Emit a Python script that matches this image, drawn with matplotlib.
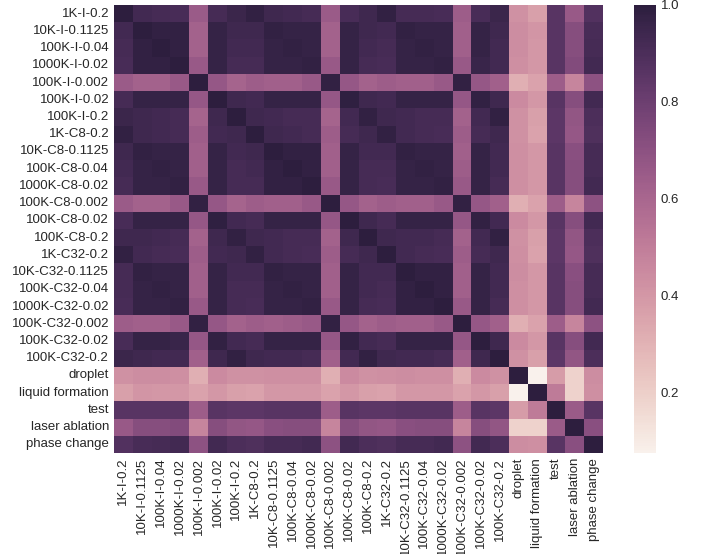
import numpy as np
import pandas as pd
import matplotlib
matplotlib.use("Agg")
import matplotlib.pyplot as plt
import seaborn as sns

# labels for the correlation matrix (rows and columns share the same order)
labels = [
    "1K-I-0.2", "10K-I-0.1125", "100K-I-0.04", "1000K-I-0.02", "100K-I-0.002",
    "100K-I-0.02", "100K-I-0.2",
    "1K-C8-0.2", "10K-C8-0.1125", "100K-C8-0.04", "1000K-C8-0.02", "100K-C8-0.002",
    "100K-C8-0.02", "100K-C8-0.2",
    "1K-C32-0.2", "10K-C32-0.1125", "100K-C32-0.04", "1000K-C32-0.02", "100K-C32-0.002",
    "100K-C32-0.02", "100K-C32-0.2",
    "droplet", "liquid formation", "test", "laser ablation", "phase change",
]

# lower triangle of the correlation matrix, diagonal included
lower = [
    [1.00],
    [0.93, 1.00],
    [0.92, 0.98, 1.00],
    [0.91, 0.98, 0.98, 1.00],
    [0.65, 0.62, 0.62, 0.66, 1.00],
    [0.92, 0.97, 0.97, 0.97, 0.67, 1.00],
    [0.95, 0.94, 0.93, 0.92, 0.61, 0.94, 1.00],
    [0.98, 0.94, 0.93, 0.92, 0.64, 0.93, 0.94, 1.00],
    [0.94, 0.98, 0.97, 0.97, 0.63, 0.97, 0.93, 0.94, 1.00],
    [0.93, 0.97, 0.98, 0.97, 0.63, 0.97, 0.92, 0.93, 0.98, 1.00],
    [0.92, 0.97, 0.97, 0.98, 0.66, 0.97, 0.92, 0.92, 0.98, 0.98, 1.00],
    [0.65, 0.62, 0.62, 0.66, 0.98, 0.67, 0.61, 0.64, 0.63, 0.63, 0.66, 1.00],
    [0.91, 0.97, 0.97, 0.97, 0.67, 0.99, 0.93, 0.92, 0.97, 0.97, 0.97, 0.67, 1.00],
    [0.94, 0.94, 0.93, 0.92, 0.62, 0.94, 0.98, 0.94, 0.93, 0.92, 0.92, 0.62, 0.94, 1.00],
    [0.98, 0.93, 0.92, 0.91, 0.64, 0.93, 0.94, 0.98, 0.93, 0.92, 0.91, 0.64, 0.92, 0.94, 1.00],
    [0.92, 0.98, 0.97, 0.97, 0.63, 0.97, 0.93, 0.93, 0.98, 0.97, 0.97, 0.63, 0.97, 0.93, 0.93, 1.00],
    [0.92, 0.97, 0.98, 0.97, 0.63, 0.97, 0.92, 0.92, 0.97, 0.98, 0.97, 0.63, 0.97, 0.93, 0.92, 0.98, 1.00],
    [0.91, 0.97, 0.97, 0.98, 0.66, 0.97, 0.92, 0.91, 0.97, 0.97, 0.98, 0.66, 0.97, 0.92, 0.91, 0.98, 0.98, 1.00],
    [0.64, 0.63, 0.63, 0.66, 0.98, 0.67, 0.62, 0.64, 0.63, 0.64, 0.66, 0.98, 0.67, 0.62, 0.64, 0.63, 0.63, 0.66, 1.00],
    [0.91, 0.97, 0.97, 0.96, 0.67, 0.98, 0.93, 0.92, 0.97, 0.97, 0.97, 0.67, 0.98, 0.93, 0.92, 0.97, 0.97, 0.97, 0.67, 1.00],
    [0.95, 0.94, 0.93, 0.93, 0.63, 0.94, 0.98, 0.94, 0.93, 0.93, 0.92, 0.63, 0.93, 0.98, 0.94, 0.93, 0.93, 0.92, 0.63, 0.94, 1.00],
    [0.42, 0.44, 0.44, 0.43, 0.31, 0.45, 0.42, 0.42, 0.43, 0.43, 0.43, 0.31, 0.45, 0.42, 0.43, 0.44, 0.43, 0.43, 0.31, 0.45, 0.42, 1.00],
    [0.37, 0.41, 0.40, 0.40, 0.36, 0.40, 0.37, 0.36, 0.40, 0.40, 0.40, 0.36, 0.40, 0.37, 0.36, 0.40, 0.40, 0.40, 0.36, 0.40, 0.37, 0.075, 1.00],
    [0.86, 0.86, 0.86, 0.86, 0.64, 0.86, 0.85, 0.85, 0.86, 0.86, 0.86, 0.64, 0.86, 0.85, 0.85, 0.86, 0.86, 0.86, 0.64, 0.86, 0.85, 0.38, 0.51, 1.00],
    [0.66, 0.72, 0.72, 0.73, 0.47, 0.72, 0.68, 0.67, 0.71, 0.72, 0.72, 0.47, 0.72, 0.68, 0.67, 0.71, 0.72, 0.72, 0.47, 0.72, 0.68, 0.19, 0.19, 0.65, 1.00],
    [0.88, 0.91, 0.92, 0.93, 0.70, 0.93, 0.90, 0.89, 0.92, 0.92, 0.93, 0.70, 0.93, 0.90, 0.89, 0.92, 0.92, 0.93, 0.70, 0.93, 0.90, 0.44, 0.43, 0.86, 0.71, 1.00],
]

n = len(labels)
corr = np.zeros((n, n))
for i, row in enumerate(lower):
    corr[i, :len(row)] = row
    corr[:len(row), i] = row
df = pd.DataFrame(corr, index=labels, columns=labels)

sns.set_theme(style="white")
plt.rcParams["font.family"] = ["Liberation Sans", "DejaVu Sans"]

fig = plt.figure(figsize=(7.06, 5.54), dpi=100)
ax = fig.add_axes([0.1615, 0.1823, 0.6926, 0.8087])
cax = fig.add_axes([0.898, 0.1823, 0.031, 0.8087])

cmap = sns.cubehelix_palette(light=0.95, as_cmap=True)
sns.heatmap(df, ax=ax, cbar_ax=cax, cmap=cmap)

ax.tick_params(axis="both", labelsize=9.5, length=0)
cax.tick_params(labelsize=9.5, length=0)

fig.savefig("out.png", dpi=100)
